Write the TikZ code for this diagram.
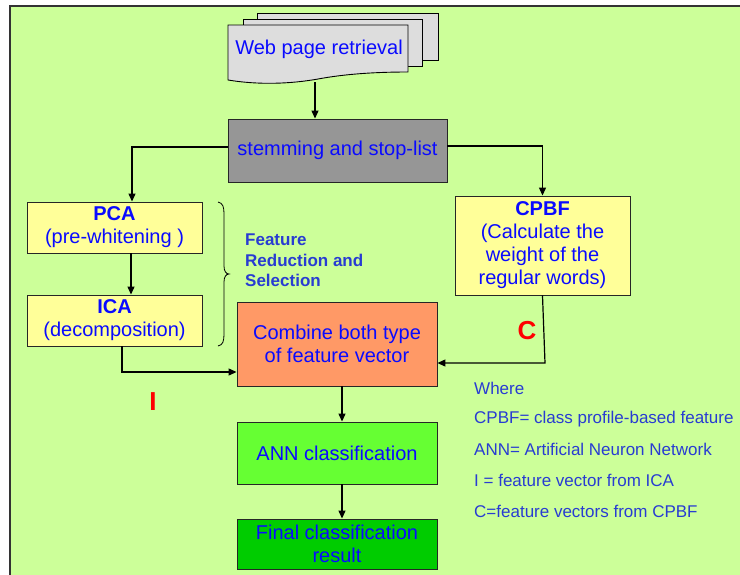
\documentclass[tikz,border=0pt]{standalone}
\usepackage{fontspec}
\setmainfont{Liberation Sans}
\usetikzlibrary{arrows.meta}
\definecolor{bggreen}{RGB}{204,255,153}
\definecolor{docgray}{RGB}{221,221,221}
\definecolor{stemgray}{RGB}{150,150,150}
\definecolor{paleyellow}{RGB}{255,255,153}
\definecolor{salmon}{RGB}{255,153,102}
\definecolor{brightgreen}{RGB}{102,255,51}
\definecolor{darkgreen}{RGB}{0,204,0}
\definecolor{txtblue}{RGB}{10,10,255}
\definecolor{notesblue}{RGB}{40,60,210}
\definecolor{labelred}{RGB}{255,0,0}
\tikzset{
  box/.style={draw=black!85, line width=0.9pt, rectangle, inner sep=0pt,
    align=center, text=txtblue, font=\fontsize{20}{23}\selectfont},
  conn/.style={draw=black, line width=1.2pt,
    -{Triangle[length=8pt,width=7pt]}},
  docsheet/.style={draw=black, line width=0.9pt, fill=docgray},
  notes/.style={anchor=west, text=notesblue, font=\fontsize{17}{20}\selectfont, inner sep=0pt},
  sidelabel/.style={text=labelred, font=\bfseries\fontsize{26}{30}\selectfont, inner sep=0pt}
}
\begin{document}
\begin{tikzpicture}[x=1pt,y=-1pt]
\useasboundingbox (0,0) rectangle (740,574);
% page background
\fill[bggreen] (10,6) rectangle (745,580);
\draw[black!80, line width=1.6pt] (10,580) -- (10,6) -- (745,6);

% stack of web pages
\path[docsheet] (257,13) rectangle (438,60);
\path[docsheet] (243,19) rectangle (422,66);
\path[docsheet] (228,25) -- (408,25) -- (408,72)
  .. controls (375,72) and (345,74) .. (318,79)
  .. controls (290,84) and (258,85) .. (228,80) -- cycle;
\node[text=txtblue, font=\fontsize{20}{23}\selectfont, inner sep=0pt] (web) at (319,49) {Web page retrieval};
\coordinate (webbot) at (315,82);

% process boxes
\node[box, fill=stemgray, minimum width=219pt, minimum height=63pt] (stem) at (337.5,150.5) {\raisebox{-2pt}{stemming and stop-list}};
\node[box, fill=paleyellow, minimum width=175pt, minimum height=51pt] (pca) at (114.5,227.5) {\textbf{PCA}\\(pre-whitening )};
\node[box, fill=paleyellow, minimum width=175pt, minimum height=51pt] (ica) at (114.5,320.5) {\textbf{ICA}\\(decomposition)};
\node[box, fill=paleyellow, minimum width=175pt, minimum height=99pt] (cpbf) at (542.5,245.5) {\textbf{CPBF}\\(Calculate the\\weight of the\\regular words)};
\node[box, fill=salmon, minimum width=200pt, minimum height=84pt] (comb) at (337,344) {Combine both type\\of feature vector};
\node[box, fill=brightgreen, minimum width=200pt, minimum height=62pt] (ann) at (337,453) {ANN classification};
\node[box, fill=darkgreen, minimum width=200pt, minimum height=50pt] (final) at (337,544) {Final classification\\result};

% brace grouping PCA and ICA
\draw[black, line width=0.8pt] (218,202) .. controls (223,203) and (224,207) .. (224,214) -- (224,266)
  .. controls (224,271) and (226,274) .. (229,274)
  .. controls (226,274) and (224,277) .. (224,282) -- (224,334)
  .. controls (224,341) and (223,345) .. (218,346);
\node[anchor=north west, align=left, text=notesblue, font=\bfseries\fontsize{17}{20.5}\selectfont, inner sep=0pt] (frs) at (245,234) {Feature\\Reduction and\\Selection};

% connectors
\draw[conn] (webbot) -- (webbot |- stem.north);
\draw[conn] ([yshift=3.5pt]stem.west) -| ([xshift=17.5pt]pca.north);
\draw[conn] ([yshift=4.5pt]stem.east) -| (cpbf.north);
\draw[conn] ([xshift=16.5pt]pca.south) -- ([xshift=16.5pt]ica.north);
\draw[conn] ([xshift=7.5pt]ica.south) |- ([yshift=-28pt]comb.west);
\coordinate (cturn) at (545,363);
\draw[conn] (cpbf.south) -- (cturn) -- (comb.east |- cturn);
\draw[conn] ([xshift=5pt]comb.south) -- ([xshift=5pt]ann.north);
\draw[conn] ([xshift=5pt]ann.south) -- ([xshift=5pt]final.north);

% connector labels
\node[sidelabel] (ilabel) at (153,402) {I};
\node[sidelabel] (clabel) at (527,331) {C};

% abbreviations
\node[notes] (n0) at (474,388) {Where};
\node[notes] (n1) at (474,419) {CPBF= class profile-based feature};
\node[notes] (n2) at (474,449) {ANN= Artificial Neuron Network};
\node[notes] (n3) at (474,480) {I = feature vector from ICA};
\node[notes] (n4) at (474,511) {C=feature vectors from CPBF};
\end{tikzpicture}
\end{document}
